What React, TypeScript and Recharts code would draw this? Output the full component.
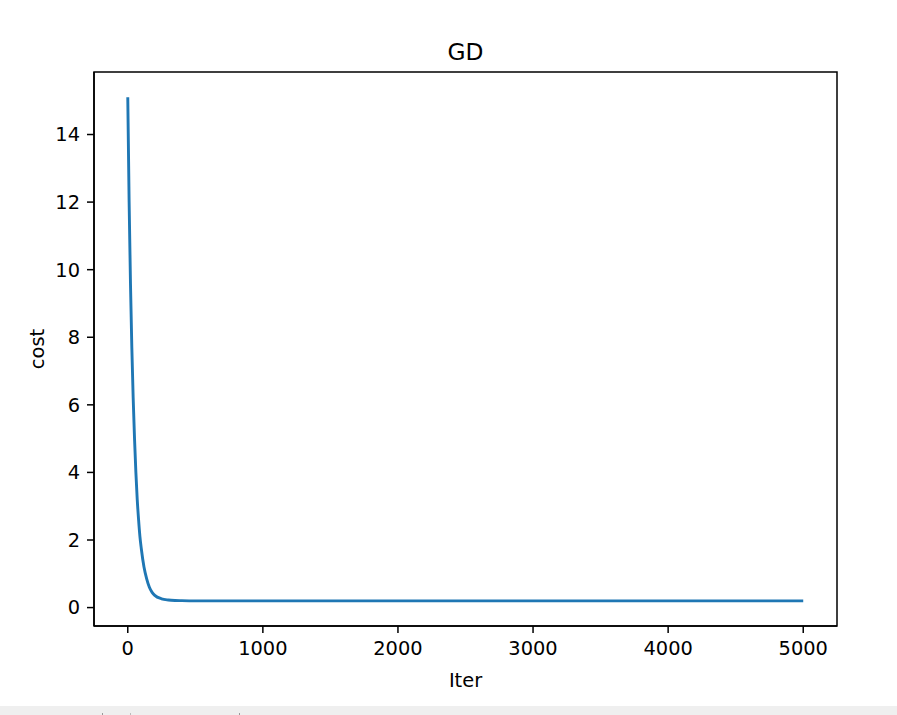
import React from "react";
import { LineChart, Line, XAxis, YAxis, ReferenceArea } from "recharts";

// cost per iteration
const iters = [0, 10, 20, 30, 40, 50, 60, 70, 80, 90, 100, 120, 140, 160, 180, 200, 250, 300, 350, 400, 500, 1000, 2000, 3000, 4000, 5000];
const costs = [15.1, 12.0, 9.6, 7.7, 6.2, 5.0, 4.0, 3.2, 2.6, 2.1, 1.75, 1.2, 0.85, 0.6, 0.45, 0.36, 0.26, 0.225, 0.21, 0.205, 0.2, 0.2, 0.2, 0.2, 0.2, 0.2];
const xTicks = [0, 1000, 2000, 3000, 4000, 5000];
const yTicks = [0, 2, 4, 6, 8, 10, 12, 14];

const data = iters.map((it, i) => ({ iter: it, cost: costs[i] }));

const font = "'DejaVu Sans', sans-serif";
const tickStyle = { fill: "#000", fontSize: 19.4, fontFamily: font };
const xDomain = [-250, 5250];
const yDomain = [-0.545, 15.85];

export default function App() {
  return (
    <div style={{ position: "absolute", left: 0, top: 0, width: 897, height: 715, background: "#fff", fontFamily: font }}>
      <LineChart width={897} height={706} data={data} margin={{ top: 72, right: 60, bottom: 30, left: 34 }}>
        <XAxis
          dataKey="iter"
          type="number"
          domain={xDomain}
          ticks={xTicks}
          allowDataOverflow
          stroke="#000"
          axisLine={{ strokeWidth: 1.5 }}
          tickLine={{ strokeWidth: 1.5 }}
          tickSize={7}
          tickMargin={8}
          tick={tickStyle}
          height={50}
        />
        <YAxis
          type="number"
          domain={yDomain}
          ticks={yTicks}
          allowDataOverflow
          stroke="#000"
          axisLine={{ strokeWidth: 1.5 }}
          tickLine={{ strokeWidth: 1.5 }}
          tickSize={7}
          tickMargin={7}
          tick={tickStyle}
          width={60}
        />
        <ReferenceArea x1={xDomain[0]} x2={xDomain[1]} y1={yDomain[0]} y2={yDomain[1]} fill="none" stroke="#000" strokeWidth={1.5} fillOpacity={0} />
        <Line dataKey="cost" type="monotone" stroke="#1f77b4" strokeWidth={2.9} dot={false} isAnimationActive={false} />
      </LineChart>
      <svg width={897} height={706} style={{ position: "absolute", left: 0, top: 0, pointerEvents: "none" }}>
        <text x={465.5} y={60} textAnchor="middle" fontSize={23.3} fontFamily={font}>GD</text>
        <text x={465.5} y={686.5} textAnchor="middle" fontSize={19.4} fontFamily={font}>Iter</text>
        <text x={44} y={349} textAnchor="middle" fontSize={19.4} fontFamily={font} transform="rotate(-90 44 349)">cost</text>
      </svg>
      <div style={{ position: "absolute", left: 0, top: 706, width: 897, height: 9, background: "#efefef" }} />
      <div style={{ position: "absolute", left: 102, top: 713, width: 1, height: 2, background: "#999" }} />
      <div style={{ position: "absolute", left: 130, top: 713, width: 1, height: 2, background: "#bbb" }} />
      <div style={{ position: "absolute", left: 239, top: 713, width: 1, height: 2, background: "#999" }} />
    </div>
  );
}
